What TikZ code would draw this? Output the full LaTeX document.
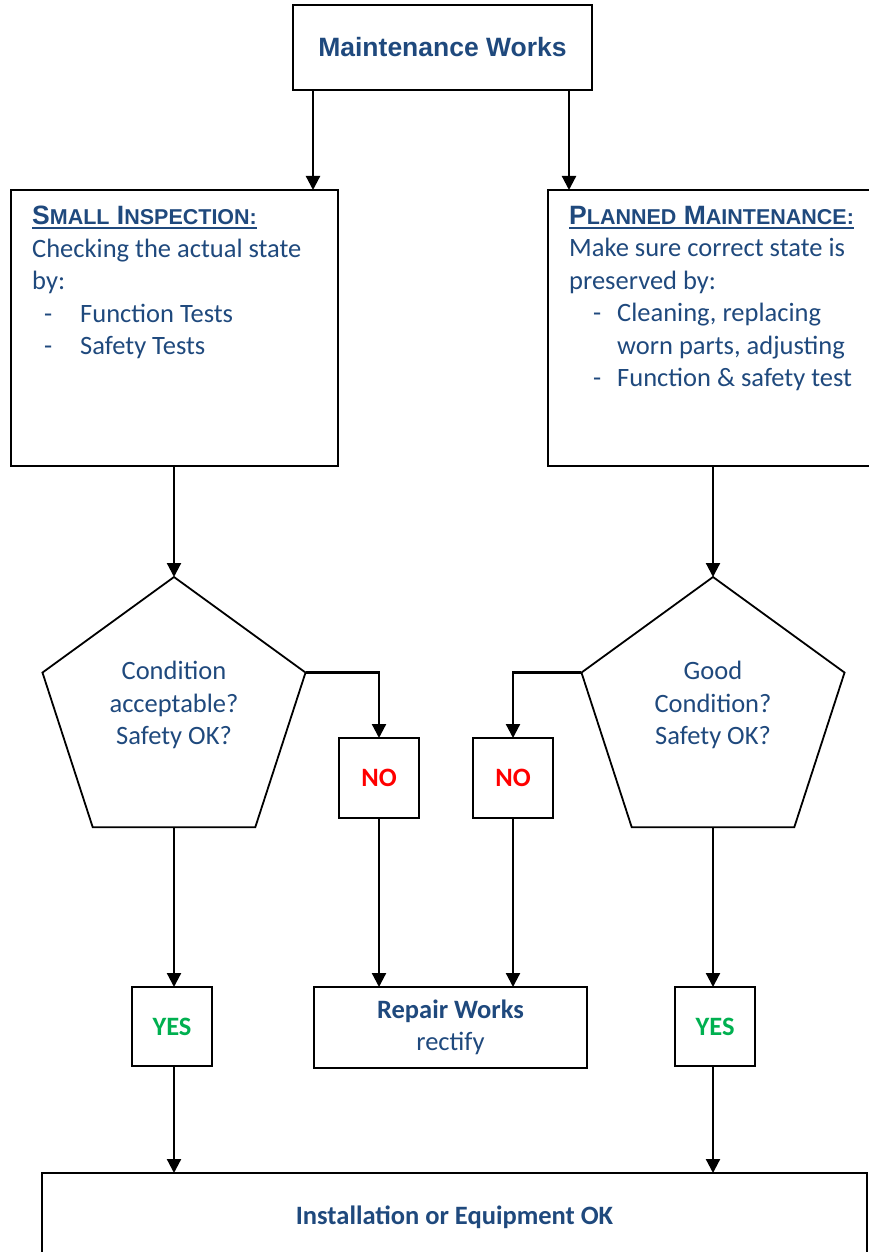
\documentclass[tikz,border=0pt]{standalone}
\usepackage{fontspec}
\setmainfont{Carlito}
\newfontfamily\arialfont{Liberation Sans}
\usepackage{xcolor}
\usetikzlibrary{shapes.geometric,arrows.meta,positioning,calc}

\definecolor{txtblue}{HTML}{1F497D}
\definecolor{noRed}{HTML}{FF0000}
\definecolor{yesGreen}{HTML}{00B050}

\newcommand{\bodysize}{\fontsize{26.5}{32.5}\selectfont}
\newcommand{\scword}[2]{{\fontsize{26.5}{32.5}\selectfont #1}{\fontsize{21.5}{32.5}\selectfont #2}}
\newcommand{\dashitem}[1]{\makebox[48pt][l]{\hspace*{#1}-}}
\newsavebox{\ulsave}
\newcommand{\thickul}[1]{\sbox{\ulsave}{#1}\rlap{\rule[-4.5pt]{\wd\ulsave}{2.2pt}}\usebox{\ulsave}}

\tikzset{
  box/.style={draw, line width=1.8pt, inner sep=0pt, outer sep=0pt, text=txtblue, font=\bodysize},
  boxtext/.style={inner sep=0pt, align=left, text=txtblue, font=\bodysize},
  pent/.style={draw, line width=1.8pt, regular polygon, regular polygon sides=5,
    minimum size=276.6pt, inner sep=0pt, outer sep=0pt},
  qtext/.style={inner sep=0pt, align=center, text=txtblue, font=\bodysize},
  arr/.style={line width=2.2pt, -{Triangle[length=14pt,width=14pt]}}
}

\begin{document}
\begin{tikzpicture}[x=1pt, y=-1pt]
    \useasboundingbox (0,0) rectangle (868,1252);

    % Start
    \node[box, minimum width=299pt, minimum height=85pt,
      font={\arialfont\bfseries\fontsize{26.5}{32}\selectfont}] (top) at (442.5,47.5) {Maintenance Works};

    % Two branches
    \node[box, minimum width=327pt, minimum height=276pt] (inspect) at (174.5,328) {};
    \node[box, minimum width=330pt, minimum height=276pt] (planned) at (713,328) {};

    \node[boxtext, anchor=north west] (inspect-text) at (32,206) {%
      \thickul{\arialfont\bfseries\scword{S}{MALL} \scword{I}{NSPECTION:}}\\
      Checking the actual state\\
      by:\\
      \dashitem{12pt}Function Tests\\
      \dashitem{12pt}Safety Tests};
    \node[boxtext, anchor=north west] (planned-text) at (569,206) {%
      \thickul{\arialfont\bfseries\scword{P}{LANNED} \scword{M}{AINTENANCE:}}\\
      Make sure correct state is\\
      preserved by:\\
      \dashitem{24pt}Cleaning, replacing\\
      \hspace*{48pt}worn parts, adjusting\\
      \dashitem{24pt}Function \& safety test};

    % Checks
    \node[pent] (checkL) at (174,715.3) {};
    \node[qtext] (checkL-text) at (174,705) {Condition\\acceptable?\\Safety OK?};
    \node[pent] (checkR) at (713,715.3) {};
    \node[qtext] (checkR-text) at (713,705) {Good\\Condition?\\Safety OK?};

    % Answers
    \node[box, minimum size=80pt, text=noRed, font=\bodysize\bfseries] (noL) at (379,778) {NO};
    \node[box, minimum size=80pt, text=noRed, font=\bodysize\bfseries] (noR) at (513,778) {NO};
    \node[box, minimum width=80pt, minimum height=79pt, text=yesGreen, font=\bodysize\bfseries] (yesL) at (172,1026.5) {YES};
    \node[box, minimum width=80pt, minimum height=79pt, text=yesGreen, font=\bodysize\bfseries] (yesR) at (715,1026.5) {YES};
    \node[box, minimum width=273pt, minimum height=81pt, align=center] (repair) at (450.5,1027.5) {\textbf{Repair Works}\\rectify};

    % End
    \node[box, minimum width=825pt, minimum height=89pt, font=\bodysize\bfseries] (final) at (454.5,1217.5) {Installation or Equipment OK};

    % Connections
    \coordinate (tl) at ([xshift=20pt]top.south west);
    \coordinate (tr) at ([xshift=-23pt]top.south east);
    \draw[arr] (tl) -- (tl |- inspect.north);
    \draw[arr] (tr) -- (tr |- planned.north);
    \draw[arr] (checkL.corner 1 |- inspect.south) -- (checkL.corner 1);
    \draw[arr] (checkR.corner 1 |- planned.south) -- (checkR.corner 1);
    \draw[arr] (checkL.corner 5) -| (noL.north);
    \draw[arr] (checkR.corner 2) -| (noR.north);
    \draw[arr] (noL.south) -- (noL.south |- repair.north);
    \draw[arr] (noR.south) -- (noR.south |- repair.north);
    \draw[arr] (checkL.south) -- (checkL.south |- yesL.north);
    \draw[arr] (checkR.south) -- (checkR.south |- yesR.north);
    \draw[arr] (checkL.south |- yesL.south) -- (checkL.south |- final.north);
    \draw[arr] (checkR.south |- yesR.south) -- (checkR.south |- final.north);

\end{tikzpicture}
\end{document}
